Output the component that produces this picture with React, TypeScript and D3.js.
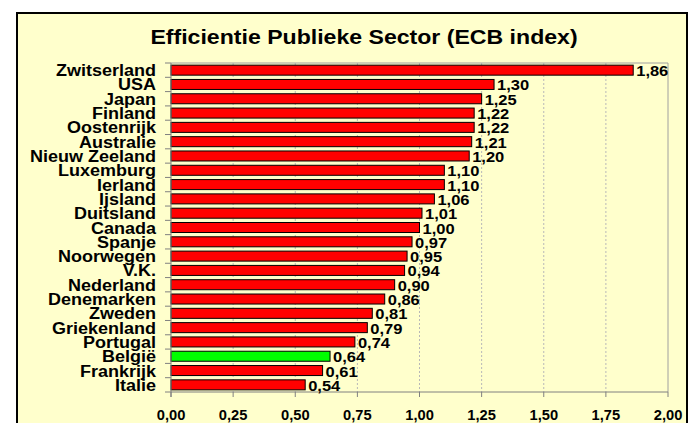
import React from "react";
import * as d3 from "d3";

const countries = [
  "Zwitserland", "USA", "Japan", "Finland", "Oostenrijk", "Australie", "Nieuw Zeeland",
  "Luxemburg", "Ierland", "Ijsland", "Duitsland", "Canada", "Spanje", "Noorwegen", "V.K.",
  "Nederland", "Denemarken", "Zweden", "Griekenland", "Portugal", "België", "Frankrijk", "Italie",
];
const values = [
  1.86, 1.30, 1.25, 1.22, 1.22, 1.21, 1.20, 1.10, 1.10, 1.06, 1.01, 1.00, 0.97, 0.95, 0.94,
  0.90, 0.86, 0.81, 0.79, 0.74, 0.64, 0.61, 0.54,
];
const highlight = ["België"];
const xTicks = [0, 0.25, 0.5, 0.75, 1.0, 1.25, 1.5, 1.75, 2.0];
const title = "Efficientie Publieke Sector (ECB index)";

const fmt = (v: number) => v.toFixed(2).replace(".", ",");
const FONT = "'Liberation Sans', Arial, sans-serif";

function SText(props: { x: number; y: number; sx?: number; anchor?: string; size: number; children: React.ReactNode }) {
  const { x, y, sx = 1.12, anchor = "start", size, children } = props;
  return (
    <text
      transform={`translate(${x},${y}) scale(${sx},1)`}
      textAnchor={anchor}
      fontFamily={FONT}
      fontWeight="bold"
      fontSize={size}
      fill="#000"
    >
      {children}
    </text>
  );
}

export default function App() {
  const W = 694, H = 423;
  const left = 171, right = 668, top = 63, bottom = 392;
  const x = d3.scaleLinear().domain([0, 2]).range([left, right]);
  const y = d3.scaleBand<string>().domain(countries).range([top, bottom]).paddingInner(0.3).paddingOuter(0.15);
  const step = (bottom - top) / countries.length;

  return (
    <svg width={W} height={H} style={{ position: "absolute", left: 0, top: 0, background: "#fff" }}>
      <rect x={17} y={13} width={670} height={420} fill="#FFFFCC" stroke="#000" strokeWidth={2} />
      <SText x={364} y={44} anchor="middle" size={21} sx={1.1}>{title}</SText>

      {xTicks.slice(1, -1).map((t) => (
        <line key={"g" + t} x1={x(t)} x2={x(t)} y1={top} y2={bottom} stroke="#b8b8b8" strokeDasharray="2,2" />
      ))}
      <line x1={left} x2={right} y1={top} y2={top} stroke="#a0a0a0" />
      <line x1={right} x2={right} y1={top} y2={bottom} stroke="#a0a0a0" />

      {countries.map((c, i) => (
        <rect
          key={c}
          x={x(0)}
          y={y(c)!}
          width={x(values[i]) - x(0)}
          height={y.bandwidth()}
          fill={highlight.includes(c) ? "#00FF00" : "#FF0000"}
          stroke="#000"
          strokeWidth={1}
        />
      ))}

      <line x1={left} x2={left} y1={top} y2={bottom + 5} stroke="#808080" />
      <line x1={left} x2={right} y1={bottom} y2={bottom} stroke="#808080" />
      {d3.range(countries.length + 1).map((i) => (
        <line key={"yt" + i} x1={left - 6} x2={left} y1={top + i * step} y2={top + i * step} stroke="#808080" />
      ))}
      {xTicks.map((t) => (
        <line key={"xt" + t} x1={x(t)} x2={x(t)} y1={bottom} y2={bottom + 5} stroke="#808080" />
      ))}

      {countries.map((c) => (
        <SText key={"l" + c} x={156} y={y(c)! + y.bandwidth() / 2 + 6} anchor="end" size={17} sx={1.06}>{c}</SText>
      ))}
      {countries.map((c, i) => (
        <SText key={"v" + c} x={x(values[i]) + 3} y={y(c)! + y.bandwidth() / 2 + 6} size={15} sx={1.1}>{fmt(values[i])}</SText>
      ))}
      {xTicks.map((t) => (
        <SText key={"xl" + t} x={x(t)} y={420} anchor="middle" size={14} sx={1.05}>{fmt(t)}</SText>
      ))}
    </svg>
  );
}
